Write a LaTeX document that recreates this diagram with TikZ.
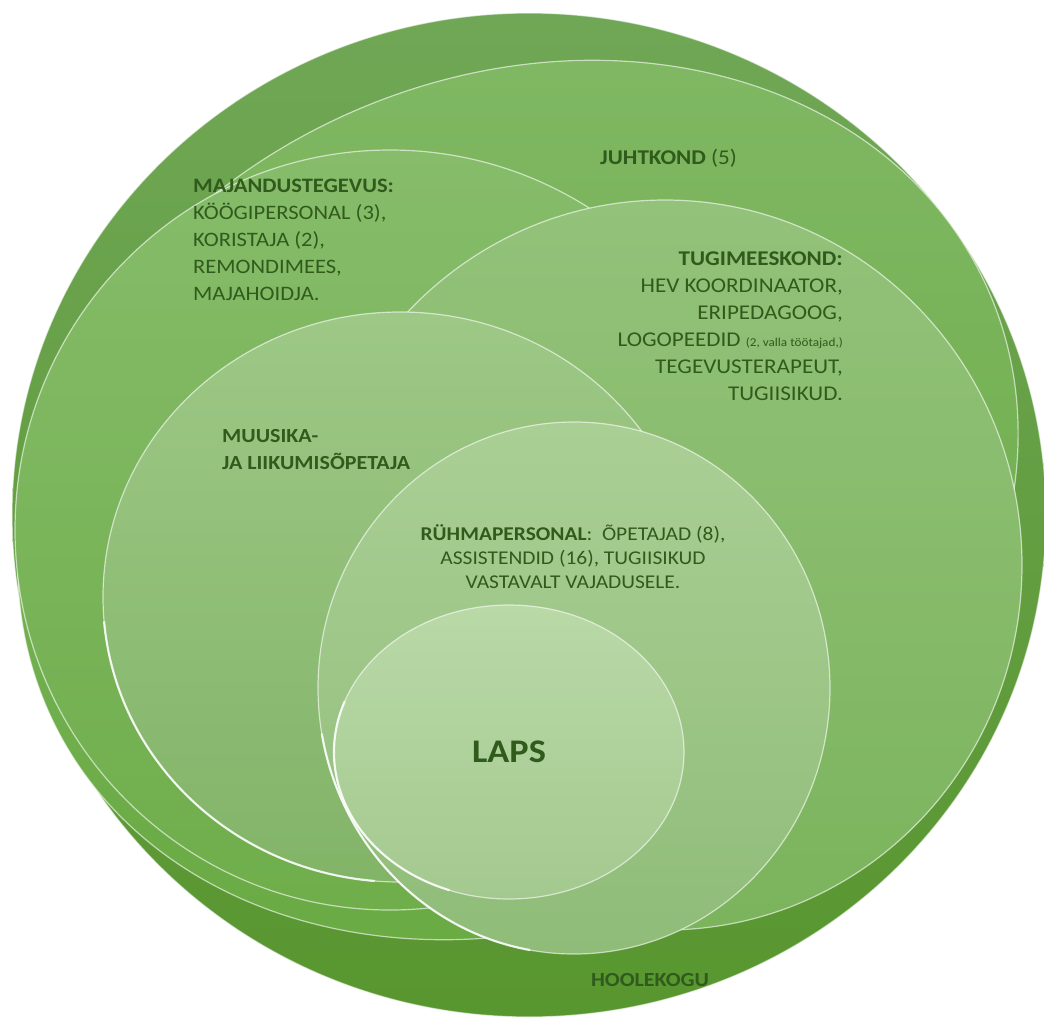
\documentclass[tikz,border=0pt]{standalone}
\usepackage{fontspec}
\setmainfont[FakeStretch=1.1]{Carlito}
\usepackage{tikz}

\definecolor{txtgreen}{HTML}{305B1C}
\definecolor{hooleTop}{HTML}{70A756}
\definecolor{hooleBot}{HTML}{58962F}
\definecolor{juhtTop}{HTML}{7FB762}
\definecolor{juhtBot}{HTML}{68AA42}
\definecolor{majTop}{HTML}{86BC6A}
\definecolor{majBot}{HTML}{6FAE4B}
\definecolor{tugiTop}{HTML}{93C27A}
\definecolor{tugiBot}{HTML}{7BB45C}
\definecolor{muusTop}{HTML}{9DC886}
\definecolor{muusBot}{HTML}{82B468}
\definecolor{ruhmTop}{HTML}{AACF95}
\definecolor{ruhmBot}{HTML}{8FBC78}
\definecolor{lapsTop}{HTML}{B9D9A7}
\definecolor{lapsBot}{HTML}{A4C98F}

\begin{document}
\begin{tikzpicture}[x=1pt,y=-1pt,
    rim/.style={draw=white,draw opacity=0.6,line width=1.2pt},
    gloss/.style={draw=white,draw opacity=0.8,line width=2.2pt,line cap=round},
    txt/.style={text=txtgreen,inner sep=0pt,font=\fontsize{21}{27}\selectfont},
    txtbold/.style={txt,font=\fontsize{20}{27}\selectfont\bfseries},
    txtsmall/.style={txt,font=\fontsize{19.5}{24}\selectfont}]
  \useasboundingbox (0,0) rectangle (1044,1018);
  % the rings, from the back to the front
  \draw[rim,top color=hooleTop,bottom color=hooleBot] (529,515) ellipse [x radius=517,y radius=502];
  \draw[rim,top color=juhtTop,bottom color=juhtBot,rotate around={24.7:(518,500)}] (518,500) ellipse [x radius=515,y radius=422];
  \draw[rim,top color=majTop,bottom color=majBot] (390,530) ellipse [x radius=375,y radius=380];
  \draw[rim,top color=tugiTop,bottom color=tugiBot] (665,565) ellipse [x radius=357,y radius=365];
  \draw[rim,top color=muusTop,bottom color=muusBot] (400,597) ellipse [x radius=297,y radius=285];
  \draw[gloss] (400,597) ++(175:297 and 285) arc [start angle=175,end angle=95,x radius=297,y radius=285];
  \draw[rim,top color=ruhmTop,bottom color=ruhmBot] (574,688) ellipse [x radius=256,y radius=266];
  \draw[gloss] (574,688) ++(170:256 and 266) arc [start angle=170,end angle=100,x radius=256,y radius=266];
  \draw[rim,top color=lapsTop,bottom color=lapsBot] (509,752) ellipse [x radius=175,y radius=147];
  \draw[gloss] (509,752) ++(200:175 and 147) arc [start angle=200,end angle=110,x radius=175,y radius=147];
  % texts
  \node[txt,anchor=west] (juht) at (600,158) {\textbf{JUHTKOND} (5)};
  \node[txt,anchor=west,align=left,font=\fontsize{20.5}{27}\selectfont] (maj) at (193,240)
    {\textbf{MAJANDUSTEGEVUS:}\\KÖÖGIPERSONAL (3),\\KORISTAJA (2),\\REMONDIMEES,\\MAJAHOIDJA.};
  \node[txt,anchor=east,align=right] (tugi) at (843,326)
    {\textbf{TUGIMEESKOND:}\\HEV KOORDINAATOR,\\ERIPEDAGOOG,\\LOGOPEEDID {\fontsize{12}{14}\selectfont(2, valla töötajad,)}\\TEGEVUSTERAPEUT,\\TUGIISIKUD.};
  \node[txtbold,anchor=west,align=left] (muus) at (222,450) {MUUSIKA-\\JA LIIKUMISÕPETAJA};
  \node[txtsmall,align=center] (ruhm) at (573,557)
    {\textbf{RÜHMAPERSONAL}:\ \ ÕPETAJAD (8),\\ASSISTENDID\ (16), TUGIISIKUD\\VASTAVALT VAJADUSELE.};
  \node[txt,font=\fontsize{33}{40}\selectfont\bfseries] (laps) at (509,752) {LAPS};
  \node[txt,font=\fontsize{20}{25}\selectfont\bfseries] (hoole) at (650,980) {HOOLEKOGU};
\end{tikzpicture}
\end{document}
